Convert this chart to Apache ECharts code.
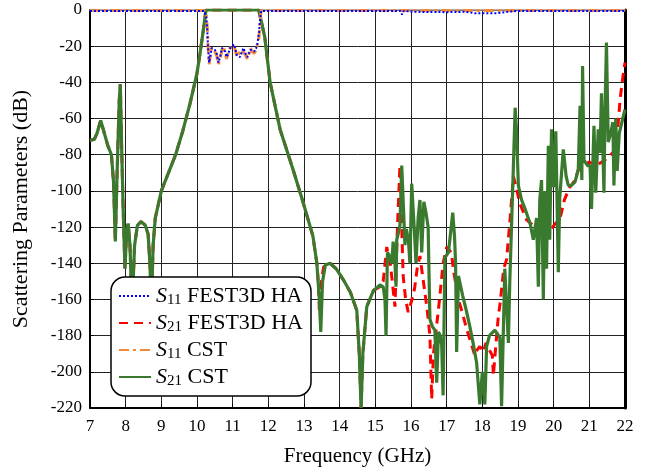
<!DOCTYPE html>
<html>
<head>
<meta charset="utf-8">
<script src="https://cdn.jsdelivr.net/npm/echarts@6/dist/echarts.min.js"></script>
<style>
html,body{margin:0;padding:0;background:#fff;}
#chart{width:652px;height:472px;}
</style>
</head>
<body>
<div id="chart"></div>
<script>
// ---------- data (frequency in GHz, level in dB) ----------
const xTicks = [7,8,9,10,11,12,13,14,15,16,17,18,19,20,21,22];
const yTicks = [-220,-200,-180,-160,-140,-120,-100,-80,-60,-40,-20,0];

const seriesNames = ['S11 FEST3D HA','S21 FEST3D HA','S11 CST','S21 CST'];

const s21LowBand = [
  [7.0,-72],[7.12,-71.5],[7.2,-68],[7.3,-61],[7.4,-68],[7.5,-75],[7.6,-80],[7.66,-95],[7.71,-128],
  [7.76,-90],[7.82,-50],[7.85,-41],[7.88,-70],[7.93,-110],[7.98,-143],[8.03,-122],[8.07,-118],
  [8.12,-130],[8.18,-165],[8.25,-130],[8.33,-119],[8.43,-117],[8.55,-119],[8.63,-124],[8.68,-140],
  [8.72,-165],[8.77,-130],[8.83,-115],[9.0,-100],[9.2,-90],[9.4,-80],[9.6,-67],[9.8,-52],[10.0,-35],
  [10.1,-22],[10.2,-8],[10.25,0],[11.73,0],[11.8,-6],[11.9,-15],[12.05,-40],[12.33,-66],[12.69,-88],
  [12.97,-106],[13.25,-125],[13.36,-140]
];

const s21CstHigh = [
  [13.43,-160],[13.47,-178],[13.52,-150],[13.6,-141],[13.73,-140],[13.9,-143],[14.1,-149],[14.3,-156],
  [14.48,-166],[14.55,-190],[14.6,-220],[14.65,-190],[14.76,-164],[14.95,-155],[15.13,-152],[15.22,-153],
  [15.27,-160],[15.3,-180],[15.34,-134],[15.4,-136],[15.46,-140],[15.5,-128],[15.55,-140],[15.58,-153],
  [15.6,-127],[15.65,-123],[15.69,-119],[15.74,-86],[15.79,-110],[15.83,-130],[15.87,-121],[15.93,-128],
  [15.97,-140],[16.02,-96],[16.06,-110],[16.1,-124],[16.14,-140],[16.2,-115],[16.25,-105],[16.3,-134],
  [16.36,-106],[16.42,-112],[16.48,-120],[16.53,-171],[16.6,-175],[16.67,-177],[16.72,-206],[16.77,-178],
  [16.82,-180],[16.86,-185],[16.9,-213],[16.95,-137],[17.05,-134],[17.1,-125],[17.17,-112],[17.22,-125],
  [17.25,-140],[17.28,-189],[17.33,-147],[17.45,-158],[17.55,-166],[17.65,-175],[17.75,-185],[17.84,-195],
  [17.93,-218],[18.0,-200],[18.07,-218],[18.12,-186],[18.2,-180],[18.35,-177],[18.49,-181],[18.54,-219],
  [18.63,-143],[18.73,-184],[18.77,-150],[18.85,-100],[18.92,-54],[18.96,-67],[19.01,-97],[19.1,-105],
  [19.2,-110],[19.34,-118],[19.43,-127],[19.52,-115],[19.57,-153],[19.61,-105],[19.66,-94],[19.71,-160],
  [19.75,-100],[19.8,-143],[19.85,-75],[19.89,-127],[19.94,-66],[20.0,-98],[20.06,-67],[20.13,-145],
  [20.17,-104],[20.27,-77],[20.35,-92],[20.41,-97],[20.5,-97],[20.6,-95],[20.69,-88],[20.74,-53],
  [20.79,-94],[20.81,-31],[20.85,-83],[20.95,-86],[21.02,-86],[21.06,-110],[21.13,-64],[21.18,-101],
  [21.25,-66],[21.3,-79],[21.34,-46],[21.41,-101],[21.44,-55],[21.48,-18],[21.53,-73],[21.6,-68],
  [21.66,-62],[21.69,-97],[21.74,-60],[21.78,-89],[21.84,-68],[21.95,-59],[22.0,-55]
];

const s21FestHigh = [
  [13.4,-150],[13.43,-166],[13.47,-152],[13.55,-142],[13.73,-140],[13.9,-143],[14.1,-149],[14.3,-156],
  [14.48,-166],[14.55,-190],[14.6,-220],[14.65,-190],[14.76,-164],[14.95,-155],[15.13,-153],[15.22,-150],
  [15.32,-131],[15.42,-140],[15.55,-164],[15.62,-120],[15.69,-86],[15.74,-120],[15.78,-147],[15.85,-160],
  [15.92,-167],[16.0,-162],[16.1,-154],[16.18,-142],[16.25,-136],[16.34,-149],[16.45,-165],[16.53,-180],
  [16.58,-215],[16.63,-190],[16.67,-183],[16.8,-160],[16.9,-140],[17.0,-131],[17.13,-134],[17.2,-145],
  [17.33,-160],[17.45,-168],[17.54,-175],[17.65,-182],[17.79,-191],[17.85,-188],[17.93,-186],[18.03,-189],
  [18.1,-184],[18.17,-187],[18.28,-191],[18.31,-202],[18.38,-185],[18.45,-169],[18.5,-162],[18.6,-143],
  [18.68,-138],[18.78,-115],[18.87,-92],[18.95,-98],[19.05,-107],[19.24,-116],[19.48,-120],[19.7,-121],
  [19.94,-121],[20.05,-118],[20.17,-116],[20.3,-105],[20.45,-98],[20.6,-94],[20.7,-88],[20.85,-86],
  [21.0,-84],[21.2,-86],[21.35,-84],[21.5,-82],[21.6,-80],[21.7,-78],[21.78,-70],[21.86,-50],
  [21.92,-40],[22.0,-29]
];

const s11Cst = [
  [7.0,-0.3],[10.2,-0.3],[10.26,-3],[10.29,-10],[10.31,-20],[10.34,-30],[10.38,-24],[10.41,-21],
  [10.45,-20],[10.5,-23],[10.55,-25],[10.6,-30],[10.65,-27],[10.7,-22],[10.74,-20],[10.79,-24],
  [10.83,-27],[10.88,-23],[10.93,-21],[10.98,-20],[11.04,-19.5],[11.08,-23],[11.12,-26],[11.17,-24],
  [11.21,-25],[11.26,-22],[11.3,-21],[11.36,-25],[11.41,-27],[11.46,-24],[11.5,-21],[11.54,-23],
  [11.6,-24],[11.66,-22],[11.7,-21],[11.74,-15],[11.77,-6],[11.8,-0.3],[22.0,-0.3]
];

const s11Fest = [
  [7.0,-0.5],[10.2,-0.5],[10.26,-4],[10.29,-12],[10.31,-21],[10.34,-29],[10.38,-25],[10.41,-21],
  [10.45,-20],[10.5,-22],[10.55,-24],[10.6,-29],[10.65,-26],[10.7,-21],[10.74,-20],[10.79,-23],
  [10.83,-26],[10.88,-24],[10.93,-21],[10.98,-20],[11.04,-19],[11.08,-22],[11.12,-25],[11.17,-24],
  [11.21,-26],[11.26,-23],[11.3,-21],[11.36,-24],[11.41,-26],[11.46,-25],[11.5,-22],[11.54,-22],
  [11.6,-23],[11.66,-21],[11.7,-18],[11.74,-12],[11.77,-5],[11.8,-0.5],[15.7,-0.5],[15.75,-2.5],
  [15.8,-0.5],[16.1,-1],[17.0,-1.2],[17.5,-1],[17.8,-1.8],[18.4,-1.8],[18.7,-1],[19.0,-0.5],[22.0,-0.5]
];

// ---------- chart ----------
const serif = 'Liberation Serif';
const chart = echarts.init(document.getElementById('chart'));

const legendRich = {
  i: {fontFamily: serif, fontStyle: 'italic', fontSize: 22, color: '#000', lineHeight: 24},
  sub: {fontFamily: serif, fontSize: 15, color: '#000', lineHeight: 24, verticalAlign: 'bottom', padding: [9,0,0,0]},
  t: {fontFamily: serif, fontSize: 22, color: '#000', lineHeight: 24}
};

function legendFormatter(name) {
  const m = name.match(/^S(\d+)\s(.*)$/);
  return '{i|S}{sub|' + m[1] + '}{t| ' + m[2] + '}';
}

chart.setOption({
  animation: false,
  backgroundColor: '#fff',
  grid: {left: 90, right: 27, top: 10, bottom: 63},
  xAxis: [{
    type: 'value', min: xTicks[0], max: xTicks[xTicks.length-1], interval: 1,
    name: 'Frequency (GHz)', nameLocation: 'middle', nameGap: 38,
    nameTextStyle: {fontFamily: serif, fontSize: 21, color: '#000'},
    axisLine: {show: true, onZero: false, lineStyle: {color: '#000', width: 2}},
    axisTick: {show: true, inside: true, length: 4, lineStyle: {color: '#000'}},
    axisLabel: {fontFamily: serif, fontSize: 17, color: '#000', margin: 10},
    splitLine: {show: true, lineStyle: {color: '#222', width: 1}}
  }, {
    type: 'value', position: 'top', min: xTicks[0], max: xTicks[xTicks.length-1], interval: 1,
    axisLine: {show: true, lineStyle: {color: '#999', width: 1.5}},
    axisTick: {show: false}, axisLabel: {show: false}, splitLine: {show: false}
  }],
  yAxis: [{
    type: 'value', min: yTicks[0], max: yTicks[yTicks.length-1], interval: 20,
    name: 'Scattering Parameters (dB)', nameLocation: 'middle', nameGap: 58,
    nameTextStyle: {fontFamily: serif, fontSize: 22, color: '#000'},
    axisLine: {show: true, onZero: false, lineStyle: {color: '#000', width: 2}},
    axisTick: {show: true, inside: true, length: 4, lineStyle: {color: '#000'}},
    axisLabel: {fontFamily: serif, fontSize: 17, color: '#000', margin: 8},
    splitLine: {show: true, lineStyle: {color: '#222', width: 1}}
  }, {
    type: 'value', position: 'right', min: yTicks[0], max: yTicks[yTicks.length-1], interval: 20,
    axisLine: {show: true, lineStyle: {color: '#000', width: 3}},
    axisTick: {show: false}, axisLabel: {show: false}, splitLine: {show: false}
  }],
  legend: {
    data: seriesNames,
    orient: 'vertical',
    left: 111, top: 277,
    backgroundColor: '#fff',
    borderColor: '#000', borderWidth: 1.5, borderRadius: 14,
    padding: [7, 8, 7, 7],
    itemWidth: 32, itemHeight: 12, itemGap: 3,
    itemStyle: {opacity: 0},
    formatter: legendFormatter,
    textStyle: {rich: legendRich}
  },
  series: [
    {name: seriesNames[1], type: 'line', showSymbol: false, symbol: 'none', z: 2,
     data: s21LowBand.concat(s21FestHigh),
     lineStyle: {color: '#ff0000', width: 3, type: [9, 6]}, itemStyle: {color: '#ff0000'}},
    {name: seriesNames[3], type: 'line', showSymbol: false, symbol: 'none', z: 3,
     data: s21LowBand.concat(s21CstHigh),
     lineStyle: {color: '#3a7a2f', width: 3.2}, itemStyle: {color: '#3a7a2f'}},
    {name: seriesNames[2], type: 'line', showSymbol: false, symbol: 'none', z: 4,
     data: s11Cst,
     lineStyle: {color: '#f28a3c', width: 3, type: [10, 4, 3, 4]}, itemStyle: {color: '#f28a3c'}},
    {name: seriesNames[0], type: 'line', showSymbol: false, symbol: 'none', z: 5,
     data: s11Fest,
     lineStyle: {color: '#0000ff', width: 2, type: [2, 2]}, itemStyle: {color: '#0000ff'}}
  ]
});
</script>
</body>
</html>
